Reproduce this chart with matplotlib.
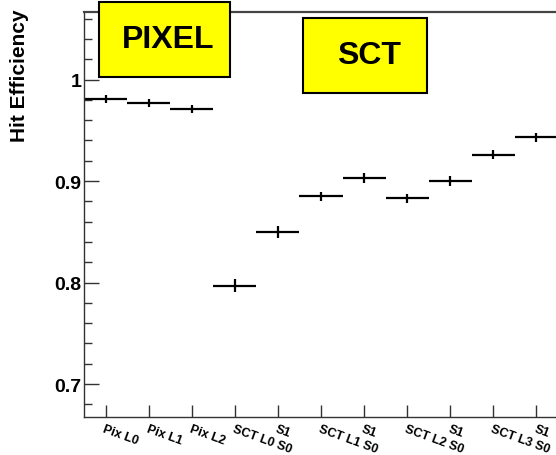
import numpy as np
import matplotlib
matplotlib.use("Agg")
import matplotlib.pyplot as plt
from matplotlib.patches import Rectangle

plt.rcParams['font.family'] = ['Liberation Sans', 'DejaVu Sans']

# one bin per detector layer / side
layers = ["Pix L0", "Pix L1", "Pix L2", "SCT L0 S0", "S1", "SCT L1 S0", "S1",
          "SCT L2 S0", "S1", "SCT L3 S0", "S1"]
efficiency = [0.981, 0.977, 0.971, 0.797, 0.850, 0.885, 0.903, 0.883, 0.900, 0.926, 0.943]
eff_err = [0.004, 0.004, 0.004, 0.006, 0.006, 0.0045, 0.0045, 0.0045, 0.0045, 0.0045, 0.0045]

W, H = 556, 456
fig = plt.figure(figsize=(W / 100, H / 100), dpi=100)
ax = fig.add_axes([84 / W, 38 / H, 474 / W, 405 / H])

x = np.arange(len(layers)) + 0.5
ax.errorbar(x, efficiency, xerr=0.5, yerr=eff_err, fmt='none',
            ecolor='black', elinewidth=1.6, capsize=0)

ax.set_xlim(0, len(layers))
ax.set_ylim(0.6675, 1.0665)

ax.set_yticks([0.7, 0.8, 0.9, 1.0])
ax.set_yticklabels(["0.7", "0.8", "0.9", "1"], fontweight='bold', fontsize=14)
ax.set_yticks(np.arange(0.68, 1.066, 0.02), minor=True)
ax.tick_params(axis='y', which='major', direction='in', length=11, width=1, pad=2, color='#333333')
ax.tick_params(axis='y', which='minor', direction='in', length=5.5, width=1, color='#333333')

ax.set_xticks(x)
ax.set_xticklabels(layers, fontweight='bold', fontsize=9, rotation=-20,
                   ha='left', va='top', rotation_mode='anchor')
ax.tick_params(axis='x', which='major', direction='in', length=8.5, width=1, pad=4, color='#333333')

for side in ['left', 'bottom']:
    ax.spines[side].set_color('#333333')
    ax.spines[side].set_linewidth(1)
ax.spines['top'].set_color('#444444')
ax.spines['top'].set_linewidth(1.6)
ax.spines['right'].set_visible(False)

fig.text(20 / W, 1 - 10 / H, "Hit Efficiency", rotation=90, ha='center', va='top',
         fontsize=15, fontweight='bold')

# yellow labels
for (x0, y0, x1, y1), label in [((99, 3, 230, 78), "PIXEL"), ((303, 19, 427, 94), "SCT")]:
    fig.patches.append(Rectangle((x0 / W, 1 - y1 / H), (x1 - x0) / W, (y1 - y0) / H,
                                 transform=fig.transFigure, facecolor='#ffff00',
                                 edgecolor='black', linewidth=1.5, zorder=5))
    fig.text((x0 + x1) / 2 / W + 4 / W, 1 - (y0 + y1) / 2 / H, label, ha='center', va='center',
             fontsize=23, fontweight='bold', zorder=6)

fig.savefig("out.png", dpi=100)
